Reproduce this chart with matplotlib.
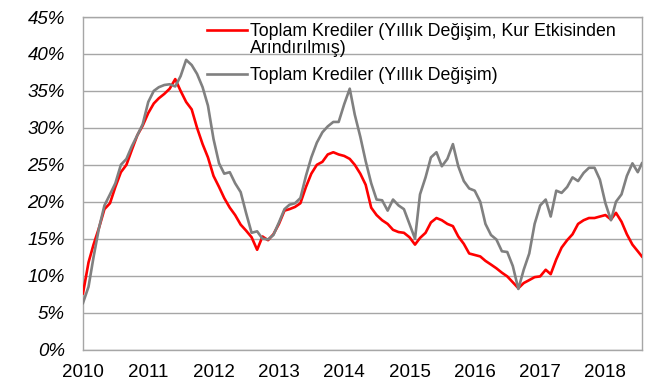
import matplotlib.pyplot as plt
import matplotlib.dates as mdates
import matplotlib.ticker as mticker
import pandas as pd

plt.rcParams['font.family'] = ['Liberation Sans', 'DejaVu Sans']

# monthly readings, last point = end of series (late July 2018)
dates = list(pd.date_range('2010-01-01', '2018-07-01', freq='MS')) + [pd.Timestamp('2018-07-24')]

kur_etkisiz = [7.6, 11.8, 14.2, 16.5, 19.0, 19.8, 22.0, 24.0, 25.0, 27.0, 29.0, 30.3,
               32.0, 33.3, 34.0, 34.6, 35.3, 36.6, 35.0, 33.5, 32.5, 30.0, 27.8, 26.0,
               23.5, 22.0, 20.5, 19.2, 18.2, 16.9, 16.1, 15.2, 13.5, 15.3, 14.8, 15.6,
               17.0, 18.8, 19.0, 19.3, 19.8, 22.0, 23.8, 25.0, 25.4, 26.4, 26.7, 26.4,
               26.2, 25.8, 25.0, 23.8, 22.3, 19.2, 18.2, 17.5, 17.0, 16.2, 15.9, 15.8,
               15.2, 14.2, 15.1, 15.8, 17.2, 17.8, 17.5, 17.0, 16.7, 15.3, 14.3, 13.0,
               12.8, 12.6, 12.0, 11.5, 11.0, 10.4, 9.9, 9.1, 8.3, 9.0, 9.4, 9.8,
               9.9, 10.8, 10.2, 12.2, 13.8, 14.8, 15.6, 17.0, 17.5, 17.8, 17.8, 18.0,
               18.2, 17.6, 18.5, 17.3, 15.6, 14.2, 13.3, 12.6]

toplam = [6.3, 8.5, 12.5, 16.5, 19.5, 21.0, 22.5, 25.0, 25.8, 27.5, 29.0, 30.5,
          33.5, 35.0, 35.5, 35.8, 35.9, 35.6, 37.0, 39.2, 38.5, 37.3, 35.5, 33.0,
          28.5, 25.2, 23.8, 24.0, 22.5, 21.3, 18.5, 15.8, 16.0, 15.0, 14.9, 15.5,
          17.2, 19.0, 19.6, 19.8, 20.5, 23.5, 26.0, 28.0, 29.4, 30.2, 30.8, 30.8,
          33.2, 35.3, 31.8, 28.8, 25.5, 22.5, 20.3, 20.2, 18.8, 20.3, 19.5, 19.0,
          17.0, 15.0, 21.0, 23.3, 26.0, 26.7, 24.8, 25.8, 27.8, 24.8, 22.8, 21.8,
          21.5, 20.0, 17.0, 15.5, 14.9, 13.3, 13.2, 11.3, 8.2, 10.8, 13.0, 17.0,
          19.5, 20.3, 18.0, 21.5, 21.2, 22.0, 23.3, 22.8, 23.9, 24.6, 24.6, 23.0,
          19.8, 17.5, 20.0, 21.0, 23.5, 25.2, 24.0, 25.2]

label1 = 'Toplam Krediler (Yıllık Değişim, Kur Etkisinden'
label1b = 'Arındırılmış)'
label2 = 'Toplam Krediler (Yıllık Değişim)'

grid_col = '#A6A6A6'
fs_leg = 12.8

fig = plt.figure(figsize=(6.56, 3.91), dpi=100)
ax = fig.add_axes([0.1265, 0.106, 0.852, 0.8505])

l1, = ax.plot(dates, kur_etkisiz, color='#FF0000', lw=1.9, zorder=3)
l2, = ax.plot(dates, toplam, color='#808080', lw=1.9, zorder=4)

ax.set_ylim(0, 45)
ax.set_xlim(pd.Timestamp('2010-01-01'), pd.Timestamp('2018-07-24'))
ax.yaxis.set_major_locator(mticker.MultipleLocator(5))
ax.yaxis.set_major_formatter(mticker.StrMethodFormatter('{x:.0f}%'))
ax.xaxis.set_major_locator(mdates.YearLocator())
ax.xaxis.set_major_formatter(mdates.DateFormatter('%Y'))
ax.grid(axis='y', color=grid_col, lw=1.0)
ax.set_axisbelow(True)
ax.tick_params(length=0, labelsize=13.5)
ax.tick_params(axis='y', pad=13)
ax.tick_params(axis='x', pad=10.5)
for t in ax.get_yticklabels():
    t.set_fontstyle('italic')
for s in ax.spines.values():
    s.set_color(grid_col)
    s.set_linewidth(1.0)

leg = ax.legend([l1, l2], [label1, label2], loc='upper left', bbox_to_anchor=(0.209, 1.003),
                frameon=False, fontsize=fs_leg, handlelength=2.25, handletextpad=0.2,
                labelspacing=1.53, borderaxespad=0)

# second line of the first legend label, 17 px under the first line
fig.canvas.draw()
bb = leg.get_texts()[0].get_window_extent().transformed(fig.transFigure.inverted())
fig.text(bb.x0, bb.y1 - 17 / 391, label1b, fontsize=fs_leg, va='top', ha='left')

fig.savefig('out.png', dpi=100)
